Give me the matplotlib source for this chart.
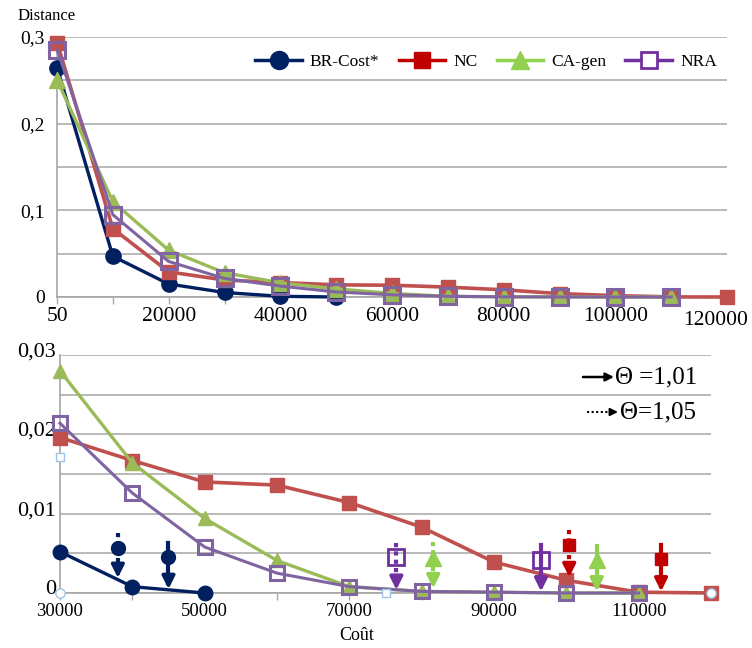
import matplotlib
matplotlib.use("Agg")
import matplotlib.pyplot as plt
import matplotlib.transforms as mtransforms
from matplotlib.lines import Line2D

plt.rcParams['font.family'] = ['Liberation Serif', 'DejaVu Serif']

# ---- top panel data ----
top_x = [50, 10000, 20000, 30000, 40000, 50000, 60000, 70000, 80000, 90000, 100000, 110000, 120000]
top_br = [0.264, 0.047, 0.015, 0.0052, 0.0008, 0.0]
top_nc = [0.293, 0.079, 0.029, 0.0196, 0.0167, 0.014, 0.0136, 0.0114, 0.0083, 0.0039, 0.0016, 0.0001, 0.0]
top_ca = [0.250, 0.110, 0.054, 0.0280, 0.0164, 0.0094, 0.0041, 0.0008, 0.0002, 0.0001, 0.0, 0.0]
top_nra = [0.285, 0.095, 0.041, 0.0214, 0.0126, 0.0058, 0.0025, 0.0008, 0.0002, 0.0001, 0.0, 0.0]
top_xticks = [50, 20000, 40000, 60000, 80000, 100000, 120000]
top_xlabels = ['50', '20000', '40000', '60000', '80000', '100000', '120000']
top_yticks = [0, 0.1, 0.2, 0.3]
top_ylabels = ['0', '0,1', '0,2', '0,3']

# ---- bottom panel data ----
bot_x = [30000, 40000, 50000, 60000, 70000, 80000, 90000, 100000, 110000, 120000]
bot_xticks = [30000, 50000, 70000, 90000, 110000]
bot_yticks = [0, 0.01, 0.02, 0.03]
bot_ylabels = ['0', '0,01', '0,02', '0,03']

# arrows (theta markers): x, marker y, shaft top, arrow tip, series, dotted?
arr_x = [38000, 45000, 76500, 81600, 96500, 100400, 104200, 113100]
arr_my = [0.0057, 0.0045, 0.0045, 0.0044, 0.0041, 0.0060, 0.0041, 0.0043]
arr_top = [0.0076, 0.0063, 0.0063, 0.0064, 0.0061, 0.0080, 0.0059, 0.0061]
arr_tip = [0.0019, 0.0005, 0.0004, 0.0006, 0.0002, 0.0020, 0.0002, 0.0002]
arr_ser = ['br', 'br', 'nra', 'ca', 'nra', 'nc', 'ca', 'nc']
arr_dot = [True, False, True, True, False, True, False, False]

# stray light-blue points
stray_sq_x = [30000, 75000]
stray_sq_y = [0.0172, 0.0]
stray_ci_x = [30000, 120000]
stray_ci_y = [0.0, 0.0]

line_col = {'br': '#002060', 'nc': '#c0504d', 'ca': '#9bbb59', 'nra': '#8064a2'}
leg_col = {'br': '#002060', 'nc': '#c00000', 'ca': '#92d050', 'nra': '#7030a0'}
grid_col = '#a6a6a6'

fig = plt.figure(figsize=(7.52, 6.48), dpi=100)


def style_axes(ax):
    ax.set_facecolor('white')
    for s in ['top', 'right']:
        ax.spines[s].set_visible(False)
    for s in ['left', 'bottom']:
        ax.spines[s].set_color(grid_col)
        ax.spines[s].set_linewidth(1.2)
    ax.grid(axis='y', which='both', color=grid_col, lw=1.1)
    ax.set_axisbelow(True)
    ax.tick_params(axis='x', which='both', direction='out', color=grid_col, length=5, width=1)
    ax.tick_params(axis='y', which='both', length=0)


def draw_series(ax, x, ys, ms_scale=1.0):
    br, nc, ca, nra = ys
    ax.plot(x[:len(br)], br, color=line_col['br'], lw=2.4, marker='o', ms=11 * ms_scale,
            clip_on=False, zorder=3)
    ax.plot(x[:len(nc)], nc, color=line_col['nc'], lw=2.6, marker='s', ms=10 * ms_scale,
            clip_on=False, zorder=3)
    ax.plot(x[:len(ca)], ca, color=line_col['ca'], lw=2.4, marker='^', ms=11 * ms_scale,
            clip_on=False, zorder=3)
    ax.plot(x[:len(nra)], nra, color=line_col['nra'], lw=2.2, marker='s', ms=11 * ms_scale,
            mfc='none', mew=2.2, clip_on=False, zorder=3)


# ---------------- top panel ----------------
ax1 = fig.add_axes([57 / 752, 1 - 297 / 648, 670 / 752, 260 / 648])
style_axes(ax1)
draw_series(ax1, top_x, [top_br, top_nc, top_ca, top_nra], 1.0)
ax1.set_xlim(0, 120000)
ax1.set_ylim(0, 0.3)
ax1.set_xticks(top_xticks)
ax1.set_xticklabels(top_xlabels, fontsize=15.5)
ax1.set_xticks(top_x, minor=True)
ax1.set_yticks(top_yticks)
ax1.set_yticks([0.05, 0.15, 0.25], minor=True)
ax1.set_yticklabels(top_ylabels, fontsize=14)
ax1.tick_params(axis='y', pad=9)
ax1.tick_params(axis='x', pad=2)
# last label sits at the right edge: nudge it inward and slightly down
last = ax1.get_xticklabels()[-1]
last.set_transform(last.get_transform() +
                   mtransforms.ScaledTranslation(-8 / 72, -3 / 72, fig.dpi_scale_trans))

handles = [
    Line2D([], [], color=leg_col['br'], lw=2.5, marker='o', ms=13),
    Line2D([], [], color=leg_col['nc'], lw=2.5, marker='s', ms=11),
    Line2D([], [], color=leg_col['ca'], lw=2.5, marker='^', ms=13),
    Line2D([], [], color=leg_col['nra'], lw=2.5, marker='s', ms=12, mfc='white', mew=2),
]
fig.legend(handles, ['BR-Cost*', 'NC', 'CA-gen', 'NRA'], loc='center',
           bbox_to_anchor=(486 / 752, 1 - 62 / 648), ncol=4, frameon=False,
           fontsize=12.5, handlelength=2.7, handletextpad=0.45, columnspacing=1.1)

fig.text(18 / 752, 1 - 16 / 648, 'Distance', fontsize=12, va='center', ha='left')

# ---------------- bottom panel ----------------
ax2 = fig.add_axes([60 / 752, 1 - 593 / 648, 651 / 752, 238 / 648])
style_axes(ax2)
offs = top_x.index(30000)
draw_series(ax2, bot_x,
            [top_br[offs:], top_nc[offs:], top_ca[offs:], top_nra[offs:]], 0.95)
ax2.scatter(stray_sq_x, stray_sq_y, marker='s', s=30,
            facecolor='white', edgecolor='#9dc3e6', lw=1, zorder=4, clip_on=False)
ax2.scatter(stray_ci_x, stray_ci_y, marker='o', s=45,
            facecolor='white', edgecolor='#9dc3e6', lw=1, zorder=4, clip_on=False)

mk = {'br': dict(marker='o', ms=10, mfc=leg_col['br'], mec=leg_col['br']),
      'nc': dict(marker='s', ms=9, mfc=leg_col['nc'], mec=leg_col['nc']),
      'ca': dict(marker='^', ms=11, mfc=leg_col['ca'], mec=leg_col['ca']),
      'nra': dict(marker='s', ms=12, mfc='none', mec=leg_col['nra'], mew=2)}
for x, my, top, tip, ser, dot in zip(arr_x, arr_my, arr_top, arr_tip, arr_ser, arr_dot):
    c = leg_col[ser]
    ls = (0, (1, 1)) if dot else '-'
    ax2.plot([x, x], [top, tip + 0.0008], color=c, lw=3, ls=ls, zorder=5)
    ax2.annotate('', xy=(x, tip), xytext=(0, 10), textcoords='offset points',
                 arrowprops=dict(arrowstyle='-|>', color=c, lw=2.6, mutation_scale=19,
                                 shrinkA=0, shrinkB=0), zorder=5)
    ax2.plot([x], [my], ls='none', zorder=6, **mk[ser])

ax2.set_xlim(30000, 120000)
ax2.set_ylim(0, 0.03)
ax2.set_xticks(bot_xticks)
ax2.set_xticklabels([str(v) for v in bot_xticks], fontsize=13.5)
ax2.set_xticks(bot_x, minor=True)
ax2.set_yticks(bot_yticks)
ax2.set_yticks([0.005, 0.015, 0.025], minor=True)
ax2.set_yticklabels(bot_ylabels, fontsize=16)
ax2.tick_params(axis='y', pad=3)
ax2.tick_params(axis='x', pad=2)
off = mtransforms.ScaledTranslation(0, 4 / 72, fig.dpi_scale_trans)
for lab in ax2.get_yticklabels():
    lab.set_transform(lab.get_transform() + off)

fig.text(357 / 752, 1 - 635 / 648, 'Coût', fontsize=13, ha='center', va='center')

# theta legend
y1 = 1 - 377 / 648
y2 = 1 - 412 / 648
ax2.annotate('', xy=(614 / 752, y1), xytext=(583 / 752, y1), xycoords='figure fraction',
             textcoords='figure fraction',
             arrowprops=dict(arrowstyle='-|>', color='black', lw=1.8, mutation_scale=12,
                             shrinkA=0, shrinkB=0))
fig.text(615 / 752, y1, 'Θ =1,01', fontsize=18, va='center', ha='left')
ax2.annotate('', xy=(618 / 752, y2), xytext=(612 / 752, y2), xycoords='figure fraction',
             textcoords='figure fraction',
             arrowprops=dict(arrowstyle='-|>', color='black', lw=1.5, mutation_scale=11,
                             shrinkA=0, shrinkB=0))
fig.add_artist(Line2D([587 / 752, 613 / 752], [y2, y2], color='black', lw=1.5,
                      ls=(0, (1, 1.2)), transform=fig.transFigure))
fig.text(620 / 752, y2, 'Θ=1,05', fontsize=18, va='center', ha='left')

fig.savefig('out.png', dpi=100, facecolor='white')
